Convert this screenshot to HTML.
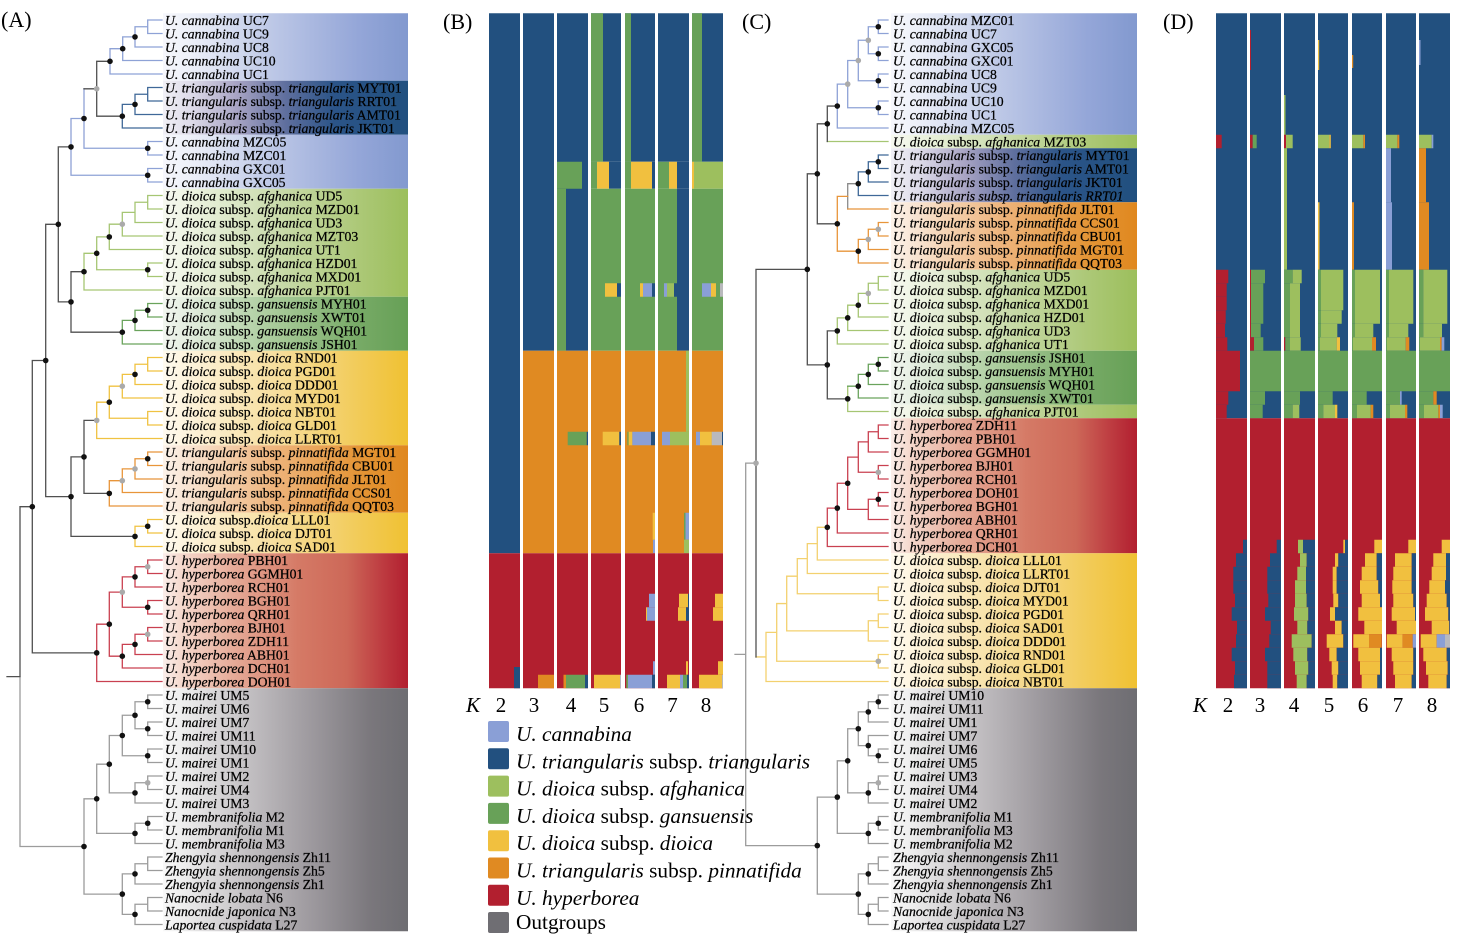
<!DOCTYPE html>
<html><head><meta charset="utf-8">
<style>
html,body{margin:0;padding:0;background:#fff;}
body{width:1458px;height:934px;overflow:hidden;}
svg{display:block;}
text{font-family:"Liberation Serif","Times New Roman",serif;fill:#000;}
.lab text{font-size:13.7px;stroke:#000;stroke-width:0.25px;}
.i{font-style:italic;}
.bl{fill:#22507f}.lb{fill:#8a9fd6}.lg{fill:#9dbf5e}.gr{fill:#68a158}.ye{fill:#f1c03f}.or{fill:#e08a22}.rd{fill:#b21f2f}.gy{fill:#b9b9bd}
.tr{fill:none;stroke-width:1.3;stroke-linecap:square}
</style></head><body>
<svg width="1458" height="934" viewBox="0 0 1458 934" xmlns="http://www.w3.org/2000/svg">
<defs>
<linearGradient id="gCan" x1="0" x2="1" y1="0" y2="0"><stop offset="0" stop-color="#f6f7fc"/><stop offset="0.1" stop-color="#eef1f9"/><stop offset="0.45" stop-color="#bcc7e6"/><stop offset="0.8" stop-color="#94a6d8"/><stop offset="1" stop-color="#8299cf"/></linearGradient>
<linearGradient id="gTri" x1="0" x2="1" y1="0" y2="0"><stop offset="0" stop-color="#f1f0f6"/><stop offset="0.12" stop-color="#dcdae8"/><stop offset="0.3" stop-color="#a8a4c4"/><stop offset="0.5" stop-color="#5f6f9e"/><stop offset="0.7" stop-color="#2b5488"/><stop offset="1" stop-color="#21507f"/></linearGradient>
<linearGradient id="gAfg" x1="0" x2="1" y1="0" y2="0"><stop offset="0" stop-color="#f7f9f1"/><stop offset="0.1" stop-color="#eef4e3"/><stop offset="0.45" stop-color="#cbdcae"/><stop offset="0.8" stop-color="#acc877"/><stop offset="1" stop-color="#9cbf5c"/></linearGradient>
<linearGradient id="gGan" x1="0" x2="1" y1="0" y2="0"><stop offset="0" stop-color="#f2f6f0"/><stop offset="0.1" stop-color="#e4eee0"/><stop offset="0.45" stop-color="#a9cb9a"/><stop offset="0.8" stop-color="#77aa66"/><stop offset="1" stop-color="#66a056"/></linearGradient>
<linearGradient id="gDio" x1="0" x2="1" y1="0" y2="0"><stop offset="0" stop-color="#fffbf0"/><stop offset="0.1" stop-color="#fdf3dc"/><stop offset="0.45" stop-color="#f7dfa0"/><stop offset="0.8" stop-color="#f2cb58"/><stop offset="1" stop-color="#f0c132"/></linearGradient>
<linearGradient id="gPin" x1="0" x2="1" y1="0" y2="0"><stop offset="0" stop-color="#fdf3ea"/><stop offset="0.1" stop-color="#f8e4d2"/><stop offset="0.45" stop-color="#eeb47c"/><stop offset="0.8" stop-color="#e49536"/><stop offset="1" stop-color="#e0881f"/></linearGradient>
<linearGradient id="gHyp" x1="0" x2="1" y1="0" y2="0"><stop offset="0" stop-color="#fbeeea"/><stop offset="0.08" stop-color="#f5d8cc"/><stop offset="0.3" stop-color="#e5a895"/><stop offset="0.55" stop-color="#d57a66"/><stop offset="0.75" stop-color="#cd6858"/><stop offset="0.9" stop-color="#bd3a40"/><stop offset="1" stop-color="#b21f2f"/></linearGradient>
<linearGradient id="gOut" x1="0" x2="1" y1="0" y2="0"><stop offset="0" stop-color="#f8f8f8"/><stop offset="0.08" stop-color="#eeeeee"/><stop offset="0.35" stop-color="#c2bfc2"/><stop offset="0.6" stop-color="#9e9a9f"/><stop offset="0.85" stop-color="#7a777c"/><stop offset="1" stop-color="#6e6d72"/></linearGradient>
</defs>

<!-- Panel labels -->
<text x="1" y="27" font-size="22">(A)</text>
<text x="443" y="29" font-size="22">(B)</text>
<text x="742" y="29" font-size="22">(C)</text>
<text x="1163" y="29" font-size="22">(D)</text>

<!-- Backgrounds A -->
<g>
<rect x="163" y="13.25" width="245" height="67.5" fill="url(#gCan)"/>
<rect x="163" y="80.75" width="245" height="54" fill="url(#gTri)"/>
<rect x="163" y="134.75" width="245" height="54" fill="url(#gCan)"/>
<rect x="163" y="188.75" width="245" height="108" fill="url(#gAfg)"/>
<rect x="163" y="296.75" width="245" height="54" fill="url(#gGan)"/>
<rect x="163" y="350.75" width="245" height="94.5" fill="url(#gDio)"/>
<rect x="163" y="445.25" width="245" height="67.5" fill="url(#gPin)"/>
<rect x="163" y="512.75" width="245" height="40.5" fill="url(#gDio)"/>
<rect x="163" y="553.25" width="245" height="135" fill="url(#gHyp)"/>
<rect x="163" y="688.25" width="245" height="243" fill="url(#gOut)"/>
</g>
<!-- Backgrounds C -->
<g>
<rect x="891" y="13.25" width="246" height="121.5" fill="url(#gCan)"/>
<rect x="891" y="134.75" width="246" height="13.5" fill="url(#gAfg)"/>
<rect x="891" y="148.25" width="246" height="54" fill="url(#gTri)"/>
<rect x="891" y="202.25" width="246" height="67.5" fill="url(#gPin)"/>
<rect x="891" y="269.75" width="246" height="81" fill="url(#gAfg)"/>
<rect x="891" y="350.75" width="246" height="54" fill="url(#gGan)"/>
<rect x="891" y="404.75" width="246" height="13.5" fill="url(#gAfg)"/>
<rect x="891" y="418.25" width="246" height="135" fill="url(#gHyp)"/>
<rect x="891" y="553.25" width="246" height="135" fill="url(#gDio)"/>
<rect x="891" y="688.25" width="246" height="243" fill="url(#gOut)"/>
</g>

<!-- Tree A -->
<path class="tr" stroke="#8ea2d6" d="M147.7 20V33.5M147.7 20H162M147.7 33.5H162M135 26.75V47M135 26.75H147.7M135 47H162M122.7 36.9V60.5M122.7 36.9H135M122.7 60.5H162M110 48.7V74M110 48.7H122.7M110 74H162M147.7 141.5V155M147.7 141.5H162M147.7 155H162M84 88.8V148.25M84 148.25H147.7M147.7 168.5V182M147.7 168.5H162M147.7 182H162M71 118.5V175.25M71 118.5H84M71 175.25H147.7"/>
<path class="tr" stroke="#3f6898" d="M147.7 87.5V101M147.7 87.5H162M147.7 101H162M135 94.25V114.5M135 94.25H147.7M135 114.5H162M122.3 104.4V128M122.3 104.4H135M122.3 128H162"/>
<path class="tr" stroke="#a6c673" d="M84 253.3V290M84 253.3H96.7M84 290H162M96.7 236.9V269.75M96.7 236.9H109.3M96.7 269.75H147.7M147.7 263V276.5M147.7 263H162M147.7 276.5H162M109.3 224.2V249.5M109.3 224.2H122.3M109.3 249.5H162M122.3 212.4V236M122.3 212.4H135M122.3 236H162M135 202.25V222.5M135 202.25H147.7M135 222.5H162M147.7 195.5V209M147.7 195.5H162M147.7 209H162"/>
<path class="tr" stroke="#6aa35c" d="M122.3 320.4V344M122.3 320.4H135M122.3 344H162M135 310.25V330.5M135 310.25H147.7M135 330.5H162M147.7 303.5V317M147.7 303.5H162M147.7 317H162"/>
<path class="tr" stroke="#f0c242" d="M96.7 402.2V438.5M96.7 402.2H109.3M96.7 438.5H162M109.3 386.2V418.25M109.3 386.2H122.3M109.3 418.25H147.7M147.7 411.5V425M147.7 411.5H162M147.7 425H162M122.3 374.4V398M122.3 374.4H135M122.3 398H162M135 364.25V384.5M135 364.25H147.7M135 384.5H162M147.7 357.5V371M147.7 357.5H162M147.7 371H162M135 526.25V546.5M135 526.25H147.7M135 546.5H162M147.7 519.5V533M147.7 519.5H162M147.7 533H162"/>
<path class="tr" stroke="#e8953a" d="M109.3 480.7V506M109.3 480.7H122.3M109.3 506H162M122.3 468.9V492.5M122.3 468.9H135M122.3 492.5H162M135 458.75V479M135 458.75H147.7M135 479H162M147.7 452V465.5M147.7 452H162M147.7 465.5H162"/>
<path class="tr" stroke="#c94050" d="M96.7 624.2V681.5M96.7 624.2H109.3M96.7 681.5H162M109.3 592.1V656.2M109.3 592.1H122.3M109.3 656.2H122.3M122.3 576.9V607.25M122.3 576.9H135M122.3 607.25H147.7M135 566.75V587M135 566.75H147.7M135 587H162M147.7 560V573.5M147.7 560H162M147.7 573.5H162M147.7 600.5V614M147.7 600.5H162M147.7 614H162M122.3 644.4V668M122.3 644.4H135M122.3 668H162M135 634.25V654.5M135 634.25H147.7M135 654.5H162M147.7 627.5V641M147.7 627.5H162M147.7 641H162"/>
<path class="tr" stroke="#9c9c9c" d="M20 676.6V846.5M20 846.5H84M84 798.8V894.1M84 798.8H96.7M84 894.1H122.3M96.7 764.2V833.4M96.7 764.2H109.3M96.7 833.4H135M109.3 735.5V792.9M109.3 735.5H122.3M109.3 792.9H135M122.3 715.25V755.75M122.3 715.25H135M122.3 755.75H147.7M135 701.75V728.75M135 701.75H147.7M135 728.75H147.7M147.7 695V708.5M147.7 695H162M147.7 708.5H162M147.7 722V735.5M147.7 722H162M147.7 735.5H162M147.7 749V762.5M147.7 749H162M147.7 762.5H162M135 782.75V803M135 782.75H147.7M135 803H162M147.7 776V789.5M147.7 776H162M147.7 789.5H162M135 823.25V843.5M135 823.25H147.7M135 843.5H162M147.7 816.5V830M147.7 816.5H162M147.7 830H162M122.3 873.9V914.4M122.3 873.9H135M122.3 914.4H135M135 863.75V884M135 863.75H147.7M135 884H162M147.7 857V870.5M147.7 857H162M147.7 870.5H162M135 904.25V924.5M135 904.25H147.7M135 924.5H162M147.7 897.5V911M147.7 897.5H162M147.7 911H162"/>
<path class="tr" stroke="#505050" d="M96.7 61.3V116.2M96.7 61.3H110M96.7 116.2H122.3M84 88.8H96.7M58.3 146.9V301.9M58.3 146.9H71M58.3 301.9H71M71 271.7V332.2M71 271.7H84M71 332.2H122.3M45.7 224.3V496.65M45.7 224.3H58.3M45.7 496.65H71M71 456.9V536.4M71 456.9H84M71 536.4H135M84 420.4V493.4M84 420.4H96.7M84 493.4H109.3M32.3 360.5V652.85M32.3 360.5H45.7M32.3 652.85H96.7M20 506.7V676.6M20 506.7H32.3M7 676.6H20"/>
<g fill="#111">
<circle cx="135" cy="36.9" r="2.8"/><circle cx="122.7" cy="48.7" r="2.8"/><circle cx="110" cy="61.3" r="2.8"/><circle cx="135" cy="104.4" r="2.8"/><circle cx="122.3" cy="116.2" r="2.8"/><circle cx="147.7" cy="148.25" r="2.8"/><circle cx="84" cy="118.5" r="2.8"/><circle cx="147.7" cy="175.25" r="2.8"/><circle cx="71" cy="146.9" r="2.8"/><circle cx="109.3" cy="236.9" r="2.8"/><circle cx="147.7" cy="269.75" r="2.8"/><circle cx="96.7" cy="253.3" r="2.8"/><circle cx="84" cy="271.7" r="2.8"/><circle cx="147.7" cy="310.25" r="2.8"/><circle cx="135" cy="320.4" r="2.8"/><circle cx="122.3" cy="332.2" r="2.8"/><circle cx="71" cy="301.9" r="2.8"/><circle cx="58.3" cy="224.3" r="2.8"/><circle cx="135" cy="374.4" r="2.8"/><circle cx="109.3" cy="402.2" r="2.8"/><circle cx="147.7" cy="458.75" r="2.8"/><circle cx="109.3" cy="493.4" r="2.8"/><circle cx="84" cy="456.9" r="2.8"/><circle cx="147.7" cy="526.25" r="2.8"/><circle cx="135" cy="536.4" r="2.8"/><circle cx="71" cy="496.65" r="2.8"/><circle cx="45.7" cy="360.5" r="2.8"/><circle cx="135" cy="576.9" r="2.8"/><circle cx="147.7" cy="607.25" r="2.8"/><circle cx="135" cy="644.4" r="2.8"/><circle cx="122.3" cy="656.2" r="2.8"/><circle cx="109.3" cy="624.2" r="2.8"/><circle cx="96.7" cy="652.85" r="2.8"/><circle cx="32.3" cy="506.7" r="2.8"/><circle cx="147.7" cy="701.75" r="2.8"/><circle cx="147.7" cy="728.75" r="2.8"/><circle cx="135" cy="715.25" r="2.8"/><circle cx="147.7" cy="755.75" r="2.8"/><circle cx="122.3" cy="735.5" r="2.8"/><circle cx="135" cy="792.9" r="2.8"/><circle cx="109.3" cy="764.2" r="2.8"/><circle cx="147.7" cy="823.25" r="2.8"/><circle cx="135" cy="833.4" r="2.8"/><circle cx="96.7" cy="798.8" r="2.8"/><circle cx="135" cy="873.9" r="2.8"/><circle cx="135" cy="914.4" r="2.8"/><circle cx="122.3" cy="894.1" r="2.8"/><circle cx="84" cy="846.5" r="2.8"/>
</g>
<g fill="#aaaaaa">
<circle cx="96.7" cy="88.8" r="2.8"/><circle cx="122.3" cy="224.2" r="2.8"/><circle cx="122.3" cy="386.2" r="2.8"/><circle cx="96.7" cy="420.4" r="2.8"/><circle cx="135" cy="468.9" r="2.8"/><circle cx="122.3" cy="480.7" r="2.8"/><circle cx="147.7" cy="566.75" r="2.8"/><circle cx="122.3" cy="592.1" r="2.8"/><circle cx="147.7" cy="634.25" r="2.8"/><circle cx="147.7" cy="782.75" r="2.8"/>
</g>

<!-- Tree C -->
<path class="tr" stroke="#8ea2d6" d="M878.3 20V33.5M878.3 20H888M878.3 33.5H888M878.3 47V60.5M878.3 47H888M878.3 60.5H888M868.3 26.75V53.75M868.3 26.75H878.3M868.3 53.75H878.3M878.3 74V87.5M878.3 74H888M878.3 87.5H888M858.3 40.25V80.75M858.3 40.25H868.3M858.3 80.75H878.3M878.3 101V114.5M878.3 101H888M878.3 114.5H888M847.7 60.5V107.75M847.7 60.5H858.3M847.7 107.75H878.3M837.3 84.1V128M837.3 84.1H847.7M837.3 128H888"/>
<path class="tr" stroke="#3f6898" d="M878.3 155V168.5M878.3 155H888M878.3 168.5H888M868.3 161.75V182M868.3 161.75H878.3M868.3 182H888M858.3 171.9V195.5M858.3 171.9H868.3M858.3 195.5H888"/>
<path class="tr" stroke="#8a8a8a" d="M847.7 183.7V209M847.7 183.7H858.3"/>
<path class="tr" stroke="#e8953a" d="M847.7 209H888M878.3 222.5V236M878.3 222.5H888M878.3 236H888M868.3 229.25V249.5M868.3 229.25H878.3M868.3 249.5H888M858.3 239.4V263M858.3 239.4H868.3M858.3 263H888M837.3 196.4V251.2M837.3 196.4H847.7M837.3 251.2H858.3"/>
<path class="tr" stroke="#a6c673" d="M827.3 141.5H888M878.3 276.5V290M878.3 276.5H888M878.3 290H888M868.3 283.25V303.5M868.3 283.25H878.3M868.3 303.5H888M858.3 293.4V317M858.3 293.4H868.3M858.3 317H888M847.7 305.2V330.5M847.7 305.2H858.3M847.7 330.5H888M837.3 317.85V344M837.3 317.85H847.7M837.3 344H888M847.7 386.2V411.5M847.7 411.5H888"/>
<path class="tr" stroke="#6aa35c" d="M878.3 357.5V371M878.3 357.5H888M878.3 371H888M868.3 364.25V384.5M868.3 364.25H878.3M868.3 384.5H888M858.3 374.4V398M858.3 374.4H868.3M858.3 398H888M847.7 386.2H858.3"/>
<path class="tr" stroke="#c94050" d="M878.3 425V438.5M878.3 425H888M878.3 438.5H888M868.3 431.75V452M868.3 431.75H878.3M868.3 452H888M878.3 465.5V479M878.3 465.5H888M878.3 479H888M858.3 441.9V472.25M858.3 441.9H868.3M858.3 472.25H878.3M878.3 492.5V506M878.3 492.5H888M878.3 506H888M868.3 499.25V519.5M868.3 499.25H878.3M868.3 519.5H888M847.7 457.1V509.4M847.7 457.1H858.3M847.7 509.4H868.3M837.3 483.25V533M837.3 483.25H847.7M837.3 533H888M827.3 508.1V546.5M827.3 508.1H837.3M827.3 546.5H888"/>
<path class="tr" stroke="#f3d16f" d="M817.3 527.3V560M817.3 527.3H827.3M817.3 560H888M807.3 543.65V573.5M807.3 543.65H817.3M807.3 573.5H888M878.3 587V600.5M878.3 587H888M878.3 600.5H888M797.3 558.6V593.75M797.3 558.6H807.3M797.3 593.75H878.3M878.3 614V627.5M878.3 614H888M878.3 627.5H888M868.3 620.75V641M868.3 620.75H878.3M868.3 641H888M786.7 576.2V630.9M786.7 576.2H797.3M786.7 630.9H868.3M878.3 654.5V668M878.3 654.5H888M878.3 668H888M776.7 603.55V661.25M776.7 603.55H786.7M776.7 661.25H878.3M766 632.4V681.5M766 632.4H776.7M766 681.5H888M756 656.95H766"/>
<path class="tr" stroke="#9c9c9c" d="M745.7 463.15V845.6M745.7 463.15H756M735 654.4H745.7M745.7 845.6H817.3M878.3 695V708.5M878.3 695H888M878.3 708.5H888M868.3 701.75V722M868.3 701.75H878.3M868.3 722H888M878.3 749V762.5M878.3 749H888M878.3 762.5H888M868.3 735.5V755.75M868.3 735.5H888M868.3 755.75H878.3M858.3 711.9V745.6M858.3 711.9H868.3M858.3 745.6H868.3M878.3 776V789.5M878.3 776H888M878.3 789.5H888M868.3 782.75V803M868.3 782.75H878.3M868.3 803H888M847.7 728.75V792.9M847.7 728.75H858.3M847.7 792.9H868.3M878.3 816.5V830M878.3 816.5H888M878.3 830H888M868.3 823.25V843.5M868.3 823.25H878.3M868.3 843.5H888M837.3 760.8V833.4M837.3 760.8H847.7M837.3 833.4H868.3M878.3 857V870.5M878.3 857H888M878.3 870.5H888M868.3 863.75V884M868.3 863.75H878.3M868.3 884H888M878.3 897.5V911M878.3 897.5H888M878.3 911H888M868.3 904.25V924.5M868.3 904.25H878.3M868.3 924.5H888M858.3 873.9V914.4M858.3 873.9H868.3M858.3 914.4H868.3M817.3 797.1V894.1M817.3 797.1H837.3M817.3 894.1H858.3"/>
<path class="tr" stroke="#505050" d="M827.3 106.06V141.5M827.3 106.06H837.3M817.3 123.8V223.8M817.3 123.8H827.3M817.3 223.8H837.3M807.3 173.8V364.9M807.3 173.8H817.3M807.3 364.9H827.3M827.3 330.9V398.85M827.3 330.9H837.3M827.3 398.85H847.7M756 269.35V656.95M756 269.35H807.3"/>
<g fill="#111">
<circle cx="878.3" cy="26.75" r="2.8"/><circle cx="878.3" cy="53.75" r="2.8"/><circle cx="878.3" cy="80.75" r="2.8"/><circle cx="878.3" cy="107.75" r="2.8"/><circle cx="837.3" cy="106.06" r="2.8"/><circle cx="827.3" cy="123.8" r="2.8"/><circle cx="878.3" cy="161.75" r="2.8"/><circle cx="868.3" cy="171.9" r="2.8"/><circle cx="858.3" cy="183.7" r="2.8"/><circle cx="858.3" cy="251.2" r="2.8"/><circle cx="837.3" cy="223.8" r="2.8"/><circle cx="817.3" cy="173.8" r="2.8"/><circle cx="858.3" cy="305.2" r="2.8"/><circle cx="847.7" cy="317.85" r="2.8"/><circle cx="837.3" cy="330.9" r="2.8"/><circle cx="878.3" cy="364.25" r="2.8"/><circle cx="868.3" cy="374.4" r="2.8"/><circle cx="858.3" cy="386.2" r="2.8"/><circle cx="847.7" cy="398.85" r="2.8"/><circle cx="827.3" cy="364.9" r="2.8"/><circle cx="807.3" cy="269.35" r="2.8"/><circle cx="878.3" cy="499.25" r="2.8"/><circle cx="847.7" cy="483.25" r="2.8"/><circle cx="837.3" cy="508.1" r="2.8"/><circle cx="827.3" cy="527.3" r="2.8"/><circle cx="878.3" cy="701.75" r="2.8"/><circle cx="868.3" cy="711.9" r="2.8"/><circle cx="878.3" cy="755.75" r="2.8"/><circle cx="868.3" cy="745.6" r="2.8"/><circle cx="858.3" cy="728.75" r="2.8"/><circle cx="868.3" cy="792.9" r="2.8"/><circle cx="847.7" cy="760.8" r="2.8"/><circle cx="878.3" cy="823.25" r="2.8"/><circle cx="868.3" cy="833.4" r="2.8"/><circle cx="837.3" cy="797.1" r="2.8"/><circle cx="868.3" cy="873.9" r="2.8"/><circle cx="868.3" cy="914.4" r="2.8"/><circle cx="858.3" cy="894.1" r="2.8"/><circle cx="817.3" cy="845.6" r="2.8"/>
</g>
<g fill="#aaaaaa">
<circle cx="868.3" cy="40.25" r="2.8"/><circle cx="858.3" cy="60.5" r="2.8"/><circle cx="847.7" cy="84.1" r="2.8"/><circle cx="878.3" cy="229.25" r="2.8"/><circle cx="868.3" cy="239.4" r="2.8"/><circle cx="868.3" cy="293.4" r="2.8"/><circle cx="878.3" cy="472.25" r="2.8"/><circle cx="878.3" cy="661.25" r="2.8"/><circle cx="756" cy="463.15" r="2.8"/><circle cx="878.3" cy="782.75" r="2.8"/>
</g>

<!-- Labels A -->
<g class="lab">
<text x="165" y="25"><tspan class="i">U. cannabina</tspan> UC7</text>
<text x="165" y="38.5"><tspan class="i">U. cannabina</tspan> UC9</text>
<text x="165" y="52"><tspan class="i">U. cannabina</tspan> UC8</text>
<text x="165" y="65.5"><tspan class="i">U. cannabina</tspan> UC10</text>
<text x="165" y="79"><tspan class="i">U. cannabina</tspan> UC1</text>
<text x="165" y="92.5"><tspan class="i">U. triangularis</tspan> subsp. <tspan class="i">triangularis</tspan> MYT01</text>
<text x="165" y="106"><tspan class="i">U. triangularis</tspan> subsp. <tspan class="i">triangularis</tspan> RRT01</text>
<text x="165" y="119.5"><tspan class="i">U. triangularis</tspan> subsp. <tspan class="i">triangularis</tspan> AMT01</text>
<text x="165" y="133"><tspan class="i">U. triangularis</tspan> subsp. <tspan class="i">triangularis</tspan> JKT01</text>
<text x="165" y="146.5"><tspan class="i">U. cannabina</tspan> MZC05</text>
<text x="165" y="160"><tspan class="i">U. cannabina</tspan> MZC01</text>
<text x="165" y="173.5"><tspan class="i">U. cannabina</tspan> GXC01</text>
<text x="165" y="187"><tspan class="i">U. cannabina</tspan> GXC05</text>
<text x="165" y="200.5"><tspan class="i">U. dioica</tspan> subsp. <tspan class="i">afghanica</tspan> UD5</text>
<text x="165" y="214"><tspan class="i">U. dioica</tspan> subsp. <tspan class="i">afghanica</tspan> MZD01</text>
<text x="165" y="227.5"><tspan class="i">U. dioica</tspan> subsp. <tspan class="i">afghanica</tspan> UD3</text>
<text x="165" y="241"><tspan class="i">U. dioica</tspan> subsp. <tspan class="i">afghanica</tspan> MZT03</text>
<text x="165" y="254.5"><tspan class="i">U. dioica</tspan> subsp. <tspan class="i">afghanica</tspan> UT1</text>
<text x="165" y="268"><tspan class="i">U. dioica</tspan> subsp. <tspan class="i">afghanica</tspan> HZD01</text>
<text x="165" y="281.5"><tspan class="i">U. dioica</tspan> subsp. <tspan class="i">afghanica</tspan> MXD01</text>
<text x="165" y="295"><tspan class="i">U. dioica</tspan> subsp. <tspan class="i">afghanica</tspan> PJT01</text>
<text x="165" y="308.5"><tspan class="i">U. dioica</tspan> subsp. <tspan class="i">gansuensis</tspan> MYH01</text>
<text x="165" y="322"><tspan class="i">U. dioica</tspan> subsp. <tspan class="i">gansuensis</tspan> XWT01</text>
<text x="165" y="335.5"><tspan class="i">U. dioica</tspan> subsp. <tspan class="i">gansuensis</tspan> WQH01</text>
<text x="165" y="349"><tspan class="i">U. dioica</tspan> subsp. <tspan class="i">gansuensis</tspan> JSH01</text>
<text x="165" y="362.5"><tspan class="i">U. dioica</tspan> subsp. <tspan class="i">dioica</tspan> RND01</text>
<text x="165" y="376"><tspan class="i">U. dioica</tspan> subsp. <tspan class="i">dioica</tspan> PGD01</text>
<text x="165" y="389.5"><tspan class="i">U. dioica</tspan> subsp. <tspan class="i">dioica</tspan> DDD01</text>
<text x="165" y="403"><tspan class="i">U. dioica</tspan> subsp. <tspan class="i">dioica</tspan> MYD01</text>
<text x="165" y="416.5"><tspan class="i">U. dioica</tspan> subsp. <tspan class="i">dioica</tspan> NBT01</text>
<text x="165" y="430"><tspan class="i">U. dioica</tspan> subsp. <tspan class="i">dioica</tspan> GLD01</text>
<text x="165" y="443.5"><tspan class="i">U. dioica</tspan> subsp. <tspan class="i">dioica</tspan> LLRT01</text>
<text x="165" y="457"><tspan class="i">U. triangularis</tspan> subsp. <tspan class="i">pinnatifida</tspan> MGT01</text>
<text x="165" y="470.5"><tspan class="i">U. triangularis</tspan> subsp. <tspan class="i">pinnatifida</tspan> CBU01</text>
<text x="165" y="484"><tspan class="i">U. triangularis</tspan> subsp. <tspan class="i">pinnatifida</tspan> JLT01</text>
<text x="165" y="497.5"><tspan class="i">U. triangularis</tspan> subsp. <tspan class="i">pinnatifida</tspan> CCS01</text>
<text x="165" y="511"><tspan class="i">U. triangularis</tspan> subsp. <tspan class="i">pinnatifida</tspan> QQT03</text>
<text x="165" y="524.5"><tspan class="i">U. dioica</tspan> subsp.<tspan class="i">dioica</tspan> LLL01</text>
<text x="165" y="538"><tspan class="i">U. dioica</tspan> subsp. <tspan class="i">dioica</tspan> DJT01</text>
<text x="165" y="551.5"><tspan class="i">U. dioica</tspan> subsp. <tspan class="i">dioica</tspan> SAD01</text>
<text x="165" y="565"><tspan class="i">U. hyperborea</tspan> PBH01</text>
<text x="165" y="578.5"><tspan class="i">U. hyperborea</tspan> GGMH01</text>
<text x="165" y="592"><tspan class="i">U. hyperborea</tspan> RCH01</text>
<text x="165" y="605.5"><tspan class="i">U. hyperborea</tspan> BGH01</text>
<text x="165" y="619"><tspan class="i">U. hyperborea</tspan> QRH01</text>
<text x="165" y="632.5"><tspan class="i">U. hyperborea</tspan> BJH01</text>
<text x="165" y="646"><tspan class="i">U. hyperborea</tspan> ZDH11</text>
<text x="165" y="659.5"><tspan class="i">U. hyperborea</tspan> ABH01</text>
<text x="165" y="673"><tspan class="i">U. hyperborea</tspan> DCH01</text>
<text x="165" y="686.5"><tspan class="i">U. hyperborea</tspan> DOH01</text>
<text x="165" y="700"><tspan class="i">U. mairei</tspan> UM5</text>
<text x="165" y="713.5"><tspan class="i">U. mairei</tspan> UM6</text>
<text x="165" y="727"><tspan class="i">U. mairei</tspan> UM7</text>
<text x="165" y="740.5"><tspan class="i">U. mairei</tspan> UM11</text>
<text x="165" y="754"><tspan class="i">U. mairei</tspan> UM10</text>
<text x="165" y="767.5"><tspan class="i">U. mairei</tspan> UM1</text>
<text x="165" y="781"><tspan class="i">U. mairei</tspan> UM2</text>
<text x="165" y="794.5"><tspan class="i">U. mairei</tspan> UM4</text>
<text x="165" y="808"><tspan class="i">U. mairei</tspan> UM3</text>
<text x="165" y="821.5"><tspan class="i">U. membranifolia</tspan> M2</text>
<text x="165" y="835"><tspan class="i">U. membranifolia</tspan> M1</text>
<text x="165" y="848.5"><tspan class="i">U. membranifolia</tspan> M3</text>
<text x="165" y="862"><tspan class="i">Zhengyia shennongensis</tspan> Zh11</text>
<text x="165" y="875.5"><tspan class="i">Zhengyia shennongensis</tspan> Zh5</text>
<text x="165" y="889"><tspan class="i">Zhengyia shennongensis</tspan> Zh1</text>
<text x="165" y="902.5"><tspan class="i">Nanocnide lobata</tspan> N6</text>
<text x="165" y="916"><tspan class="i">Nanocnide japonica</tspan> N3</text>
<text x="165" y="929.5"><tspan class="i">Laportea cuspidata</tspan> L27</text>
</g>

<!-- Labels C -->
<g class="lab">
<text x="893" y="25"><tspan class="i">U. cannabina</tspan> MZC01</text>
<text x="893" y="38.5"><tspan class="i">U. cannabina</tspan> UC7</text>
<text x="893" y="52"><tspan class="i">U. cannabina</tspan> GXC05</text>
<text x="893" y="65.5"><tspan class="i">U. cannabina</tspan> GXC01</text>
<text x="893" y="79"><tspan class="i">U. cannabina</tspan> UC8</text>
<text x="893" y="92.5"><tspan class="i">U. cannabina</tspan> UC9</text>
<text x="893" y="106"><tspan class="i">U. cannabina</tspan> UC10</text>
<text x="893" y="119.5"><tspan class="i">U. cannabina</tspan> UC1</text>
<text x="893" y="133"><tspan class="i">U. cannabina</tspan> MZC05</text>
<text x="893" y="146.5"><tspan class="i">U. dioica</tspan> subsp. <tspan class="i">afghanica</tspan> MZT03</text>
<text x="893" y="160"><tspan class="i">U. triangularis</tspan> subsp. <tspan class="i">triangularis</tspan> MYT01</text>
<text x="893" y="173.5"><tspan class="i">U. triangularis</tspan> subsp. <tspan class="i">triangularis</tspan> AMT01</text>
<text x="893" y="187"><tspan class="i">U. triangularis</tspan> subsp. <tspan class="i">triangularis</tspan> JKT01</text>
<text x="893" y="200.5" class="i">U. triangularis subsp. triangularis RRT01</text>
<text x="893" y="214"><tspan class="i">U. triangularis</tspan> subsp. <tspan class="i">pinnatifida</tspan> JLT01</text>
<text x="893" y="227.5"><tspan class="i">U. triangularis</tspan> subsp. <tspan class="i">pinnatifida</tspan> CCS01</text>
<text x="893" y="241"><tspan class="i">U. triangularis</tspan> subsp. <tspan class="i">pinnatifida</tspan> CBU01</text>
<text x="893" y="254.5"><tspan class="i">U. triangularis</tspan> subsp. <tspan class="i">pinnatifida</tspan> MGT01</text>
<text x="893" y="268"><tspan class="i">U. triangularis</tspan> subsp. <tspan class="i">pinnatifida</tspan> QQT03</text>
<text x="893" y="281.5"><tspan class="i">U. dioica</tspan> subsp. <tspan class="i">afghanica</tspan> UD5</text>
<text x="893" y="295"><tspan class="i">U. dioica</tspan> subsp. <tspan class="i">afghanica</tspan> MZD01</text>
<text x="893" y="308.5"><tspan class="i">U. dioica</tspan> subsp. <tspan class="i">afghanica</tspan> MXD01</text>
<text x="893" y="322"><tspan class="i">U. dioica</tspan> subsp. <tspan class="i">afghanica</tspan> HZD01</text>
<text x="893" y="335.5"><tspan class="i">U. dioica</tspan> subsp. <tspan class="i">afghanica</tspan> UD3</text>
<text x="893" y="349"><tspan class="i">U. dioica</tspan> subsp. <tspan class="i">afghanica</tspan> UT1</text>
<text x="893" y="362.5"><tspan class="i">U. dioica</tspan> subsp. <tspan class="i">gansuensis</tspan> JSH01</text>
<text x="893" y="376"><tspan class="i">U. dioica</tspan> subsp. <tspan class="i">gansuensis</tspan> MYH01</text>
<text x="893" y="389.5"><tspan class="i">U. dioica</tspan> subsp. <tspan class="i">gansuensis</tspan> WQH01</text>
<text x="893" y="403"><tspan class="i">U. dioica</tspan> subsp. <tspan class="i">gansuensis</tspan> XWT01</text>
<text x="893" y="416.5"><tspan class="i">U. dioica</tspan> subsp. <tspan class="i">afghanica</tspan> PJT01</text>
<text x="893" y="430"><tspan class="i">U. hyperborea</tspan> ZDH11</text>
<text x="893" y="443.5"><tspan class="i">U. hyperborea</tspan> PBH01</text>
<text x="893" y="457"><tspan class="i">U. hyperborea</tspan> GGMH01</text>
<text x="893" y="470.5"><tspan class="i">U. hyperborea</tspan> BJH01</text>
<text x="893" y="484"><tspan class="i">U. hyperborea</tspan> RCH01</text>
<text x="893" y="497.5"><tspan class="i">U. hyperborea</tspan> DOH01</text>
<text x="893" y="511"><tspan class="i">U. hyperborea</tspan> BGH01</text>
<text x="893" y="524.5"><tspan class="i">U. hyperborea</tspan> ABH01</text>
<text x="893" y="538"><tspan class="i">U. hyperborea</tspan> QRH01</text>
<text x="893" y="551.5">U. <tspan class="i">hyperborea</tspan> DCH01</text>
<text x="893" y="565"><tspan class="i">U. dioica</tspan> subsp. <tspan class="i">dioica</tspan> LLL01</text>
<text x="893" y="578.5"><tspan class="i">U. dioica</tspan> subsp. <tspan class="i">dioica</tspan> LLRT01</text>
<text x="893" y="592"><tspan class="i">U. dioica</tspan> subsp. <tspan class="i">dioica</tspan> DJT01</text>
<text x="893" y="605.5"><tspan class="i">U. dioica</tspan> subsp. <tspan class="i">dioica</tspan> MYD01</text>
<text x="893" y="619"><tspan class="i">U. dioica</tspan> subsp. <tspan class="i">dioica</tspan> PGD01</text>
<text x="893" y="632.5"><tspan class="i">U. dioica</tspan> subsp. <tspan class="i">dioica</tspan> SAD01</text>
<text x="893" y="646"><tspan class="i">U. dioica</tspan> subsp. <tspan class="i">dioica</tspan> DDD01</text>
<text x="893" y="659.5"><tspan class="i">U. dioica</tspan> subsp. <tspan class="i">dioica</tspan> RND01</text>
<text x="893" y="673"><tspan class="i">U. dioica</tspan> subsp. <tspan class="i">dioica</tspan> GLD01</text>
<text x="893" y="686.5"><tspan class="i">U. dioica</tspan> subsp. <tspan class="i">dioica</tspan> NBT01</text>
<text x="893" y="700"><tspan class="i">U. mairei</tspan> UM10</text>
<text x="893" y="713.5"><tspan class="i">U. mairei</tspan> UM11</text>
<text x="893" y="727"><tspan class="i">U. mairei</tspan> UM1</text>
<text x="893" y="740.5"><tspan class="i">U. mairei</tspan> UM7</text>
<text x="893" y="754"><tspan class="i">U. mairei</tspan> UM6</text>
<text x="893" y="767.5"><tspan class="i">U. mairei</tspan> UM5</text>
<text x="893" y="781"><tspan class="i">U. mairei</tspan> UM3</text>
<text x="893" y="794.5"><tspan class="i">U. mairei</tspan> UM4</text>
<text x="893" y="808"><tspan class="i">U. mairei</tspan> UM2</text>
<text x="893" y="821.5"><tspan class="i">U. membranifolia</tspan> M1</text>
<text x="893" y="835"><tspan class="i">U. membranifolia</tspan> M3</text>
<text x="893" y="848.5"><tspan class="i">U. membranifolia</tspan> M2</text>
<text x="893" y="862"><tspan class="i">Zhengyia shennongensis</tspan> Zh11</text>
<text x="893" y="875.5"><tspan class="i">Zhengyia shennongensis</tspan> Zh5</text>
<text x="893" y="889"><tspan class="i">Zhengyia shennongensis</tspan> Zh1</text>
<text x="893" y="902.5"><tspan class="i">Nanocnide lobata</tspan> N6</text>
<text x="893" y="916"><tspan class="i">Nanocnide japonica</tspan> N3</text>
<text x="893" y="929.5"><tspan class="i">Laportea cuspidata</tspan> L27</text>
</g>

<!-- Panel B structure -->
<g>
<!-- K2 -->
<rect class="bl" x="489" y="13.25" width="31" height="540"/>
<rect class="rd" x="489" y="553.25" width="31" height="135"/>
<rect class="bl" x="514" y="667" width="6" height="21.25"/>
<!-- K3 -->
<rect class="bl" x="523" y="13.25" width="31" height="337.5"/>
<rect class="or" x="523" y="350.75" width="31" height="202.5"/>
<rect class="rd" x="523" y="553.25" width="31" height="135"/>
<rect class="or" x="538" y="674.75" width="16" height="13.5"/>
<!-- K4 -->
<rect class="bl" x="557" y="13.25" width="31" height="337.5"/>
<rect class="gr" x="557" y="161.75" width="25" height="27"/>
<rect class="gr" x="557" y="188.75" width="9" height="162"/>
<rect class="or" x="557" y="350.75" width="31" height="202.5"/>
<rect class="gr" x="567.7" y="431.75" width="19" height="13.5"/>
<rect class="bl" x="586.7" y="431.75" width="1.3" height="13.5"/>
<rect class="rd" x="557" y="553.25" width="31" height="135"/>
<rect class="or" x="563.5" y="674.75" width="2.5" height="13.5"/>
<rect class="gr" x="566" y="674.75" width="19" height="13.5"/>
<rect class="bl" x="585" y="674.75" width="3" height="13.5"/>
<!-- K5 -->
<rect class="bl" x="591" y="13.25" width="30" height="148.5"/>
<rect class="gr" x="591" y="13.25" width="12" height="148.5"/>
<rect class="gr" x="591" y="161.75" width="6" height="27"/>
<rect class="ye" x="597" y="161.75" width="12" height="27"/>
<rect class="bl" x="609" y="161.75" width="12" height="27"/>
<rect class="gr" x="591" y="188.75" width="30" height="162"/>
<rect class="ye" x="605" y="283.25" width="12" height="13.5"/>
<rect class="bl" x="617" y="283.25" width="4" height="13.5"/>
<rect class="or" x="591" y="350.75" width="30" height="202.5"/>
<rect class="ye" x="602.7" y="431.75" width="16.6" height="13.5"/>
<rect class="bl" x="619.3" y="431.75" width="1.7" height="13.5"/>
<rect class="rd" x="591" y="553.25" width="30" height="135"/>
<rect class="ye" x="594" y="674.75" width="26" height="13.5"/>
<rect class="gy" x="620" y="674.75" width="1" height="13.5"/>
<!-- K6 -->
<rect class="bl" x="625" y="13.25" width="30" height="148.5"/>
<rect class="gr" x="625" y="13.25" width="6" height="148.5"/>
<rect class="gr" x="625" y="161.75" width="6" height="27"/>
<rect class="ye" x="631" y="161.75" width="21" height="27"/>
<rect class="bl" x="652" y="161.75" width="3" height="27"/>
<rect class="gr" x="625" y="188.75" width="30" height="162"/>
<rect class="ye" x="640" y="283.25" width="3" height="13.5"/>
<rect class="lb" x="643" y="283.25" width="9" height="13.5"/>
<rect class="bl" x="652" y="283.25" width="3" height="13.5"/>
<rect class="or" x="625" y="350.75" width="30" height="202.5"/>
<rect class="gr" x="627.3" y="431.75" width="1.4" height="13.5"/>
<rect class="ye" x="628.7" y="431.75" width="3.6" height="13.5"/>
<rect class="lb" x="632.3" y="431.75" width="18.7" height="13.5"/>
<rect class="bl" x="651" y="431.75" width="4" height="13.5"/>
<rect class="ye" x="652.7" y="512.75" width="2.3" height="27"/>
<rect class="lb" x="653" y="539.75" width="2" height="13.5"/>
<rect class="rd" x="625" y="553.25" width="30" height="135"/>
<rect class="lb" x="649" y="593.75" width="6" height="13.5"/>
<rect class="ye" x="646" y="607.25" width="1" height="13.5"/>
<rect class="lb" x="647" y="607.25" width="8" height="13.5"/>
<rect class="lb" x="653" y="661.25" width="2" height="13.5"/>
<rect class="gr" x="626.3" y="674.75" width="1.7" height="13.5"/>
<rect class="lb" x="628" y="674.75" width="24" height="13.5"/>
<rect class="bl" x="652" y="674.75" width="3" height="13.5"/>
<!-- K7 -->
<rect class="bl" x="658" y="13.25" width="31" height="148.5"/>
<rect class="gr" x="658" y="161.75" width="11" height="27"/>
<rect class="ye" x="669" y="161.75" width="8" height="27"/>
<rect class="bl" x="677" y="161.75" width="12" height="27"/>
<rect class="gr" x="658" y="188.75" width="19" height="162"/>
<rect class="bl" x="677" y="188.75" width="12" height="162"/>
<rect class="lb" x="664" y="283.25" width="3" height="13.5"/>
<rect class="lg" x="667" y="283.25" width="7" height="13.5"/>
<rect class="bl" x="674" y="283.25" width="3" height="13.5"/>
<rect class="or" x="658" y="350.75" width="31" height="202.5"/>
<rect class="lg" x="686" y="350.75" width="3" height="81"/>
<rect class="lb" x="662" y="431.75" width="8" height="13.5"/>
<rect class="lg" x="670" y="431.75" width="19" height="13.5"/>
<rect class="gr" x="684" y="512.75" width="1.5" height="27"/>
<rect class="lb" x="685.5" y="512.75" width="3.5" height="27"/>
<rect class="lg" x="684" y="539.75" width="5" height="13.5"/>
<rect class="rd" x="658" y="553.25" width="31" height="135"/>
<rect class="ye" x="679" y="593.75" width="9" height="13.5"/>
<rect class="bl" x="688" y="593.75" width="1" height="13.5"/>
<rect class="ye" x="678" y="607.25" width="8" height="13.5"/>
<rect class="bl" x="686" y="607.25" width="3" height="13.5"/>
<rect class="ye" x="686" y="661.25" width="2" height="13.5"/>
<rect class="ye" x="667" y="674.75" width="13" height="13.5"/>
<rect class="lb" x="680" y="674.75" width="3" height="13.5"/>
<rect class="gr" x="683" y="674.75" width="4" height="13.5"/>
<rect class="bl" x="687" y="674.75" width="2" height="13.5"/>
<!-- K8 -->
<rect class="bl" x="692" y="13.25" width="31" height="148.5"/>
<rect class="gr" x="692" y="13.25" width="10" height="148.5"/>
<rect class="ye" x="692" y="161.75" width="2" height="27"/>
<rect class="lg" x="694" y="161.75" width="29" height="27"/>
<rect class="gr" x="692" y="188.75" width="31" height="162"/>
<rect class="lb" x="702" y="283.25" width="9" height="13.5"/>
<rect class="ye" x="711" y="283.25" width="5" height="13.5"/>
<rect class="gy" x="720" y="283.25" width="3" height="13.5"/>
<rect class="or" x="692" y="350.75" width="31" height="202.5"/>
<rect class="lb" x="696" y="431.75" width="4" height="13.5"/>
<rect class="ye" x="700" y="431.75" width="11.7" height="13.5"/>
<rect class="gy" x="711.7" y="431.75" width="10.3" height="13.5"/>
<rect class="bl" x="722" y="431.75" width="1" height="13.5"/>
<rect class="rd" x="692" y="553.25" width="31" height="135"/>
<rect class="ye" x="715" y="593.75" width="8" height="13.5"/>
<rect class="ye" x="713" y="607.25" width="10" height="13.5"/>
<rect class="ye" x="718" y="661.25" width="5" height="13.5"/>
<rect class="ye" x="699" y="674.75" width="23" height="13.5"/>
<rect class="gy" x="722" y="674.75" width="1" height="13.5"/>
</g>

<!-- K labels B -->
<text x="466" y="712" font-size="21" class="i">K</text>
<g font-size="21" text-anchor="middle">
<text x="501" y="712">2</text><text x="534" y="712">3</text><text x="571" y="712">4</text><text x="604" y="712">5</text><text x="639" y="712">6</text><text x="672.5" y="712">7</text><text x="706" y="712">8</text>
</g>

<!-- Legend -->
<g>
<rect class="lb" x="488" y="721" width="21" height="21" rx="2"/>
<rect class="bl" x="488" y="748.3" width="21" height="21" rx="2"/>
<rect class="lg" x="488" y="775.6" width="21" height="21" rx="2"/>
<rect class="gr" x="488" y="802.9" width="21" height="21" rx="2"/>
<rect class="ye" x="488" y="830.2" width="21" height="21" rx="2"/>
<rect class="or" x="488" y="857.5" width="21" height="21" rx="2"/>
<rect class="rd" x="488" y="884.8" width="21" height="21" rx="2"/>
<rect x="488" y="912" width="21" height="21" rx="2" fill="#6f6e73"/>
</g>
<g font-size="21.3">
<text x="516" y="741"><tspan class="i">U. cannabina</tspan></text>
<text x="516" y="768.3"><tspan class="i">U. triangularis</tspan> subsp. <tspan class="i">triangularis</tspan></text>
<text x="516" y="795.6"><tspan class="i">U. dioica</tspan> subsp. <tspan class="i">afghanica</tspan></text>
<text x="516" y="822.9"><tspan class="i">U. dioica</tspan> subsp. <tspan class="i">gansuensis</tspan></text>
<text x="516" y="850.2"><tspan class="i">U. dioica</tspan> subsp. <tspan class="i">dioica</tspan></text>
<text x="516" y="877.5"><tspan class="i">U. triangularis</tspan> subsp. <tspan class="i">pinnatifida</tspan></text>
<text x="516" y="904.8"><tspan class="i">U. hyperborea</tspan></text>
<text x="516" y="929">Outgroups</text>
</g>

<!-- Panel D structure -->
<g>
<!-- K2 -->
<rect class="bl" x="1216" y="13.25" width="31" height="405"/>
<rect class="rd" x="1216" y="134.75" width="5.7" height="13.5"/>
<rect class="rd" x="1216" y="269.75" width="12.3" height="13.5"/>
<rect class="rd" x="1216" y="283.25" width="10.7" height="13.5"/>
<rect class="rd" x="1216" y="296.75" width="10.7" height="13.5"/>
<rect class="rd" x="1216" y="310.25" width="9.7" height="13.5"/>
<rect class="rd" x="1216" y="323.75" width="9" height="13.5"/>
<rect class="rd" x="1216" y="337.25" width="11.3" height="13.5"/>
<rect class="rd" x="1216" y="350.75" width="24" height="40.5"/>
<rect class="rd" x="1216" y="391.25" width="12.3" height="13.5"/>
<rect class="rd" x="1216" y="404.75" width="10.7" height="13.5"/>
<rect class="rd" x="1216" y="418.25" width="31" height="270"/>
<rect class="bl" x="1243" y="539.75" width="4" height="13.5"/>
<rect class="bl" x="1236" y="553.25" width="11" height="13.5"/>
<rect class="bl" x="1233.3" y="566.75" width="13.7" height="13.5"/>
<rect class="bl" x="1233.3" y="580.25" width="13.7" height="13.5"/>
<rect class="bl" x="1235" y="593.75" width="12" height="13.5"/>
<rect class="bl" x="1231.7" y="607.25" width="15.3" height="13.5"/>
<rect class="bl" x="1237" y="620.75" width="10" height="13.5"/>
<rect class="bl" x="1236" y="634.25" width="11" height="13.5"/>
<rect class="bl" x="1231.7" y="647.75" width="15.3" height="13.5"/>
<rect class="bl" x="1235" y="661.25" width="12" height="13.5"/>
<rect class="bl" x="1234" y="674.75" width="13" height="13.5"/>
<!-- K3 -->
<rect class="bl" x="1250" y="13.25" width="31" height="405"/>
<rect class="rd" x="1250" y="30" width="1" height="40"/>
<rect class="rd" x="1250" y="134.75" width="2.7" height="13.5"/>
<rect class="gr" x="1252.7" y="134.75" width="4" height="13.5"/>
<rect class="rd" x="1250" y="269.75" width="1" height="67.5"/>
<rect class="gr" x="1251" y="269.75" width="14" height="13.5"/>
<rect class="gr" x="1251" y="283.25" width="12.3" height="40.5"/>
<rect class="gr" x="1251" y="323.75" width="9.7" height="13.5"/>
<rect class="rd" x="1250" y="337.25" width="4" height="13.5"/>
<rect class="gr" x="1254" y="337.25" width="9.3" height="13.5"/>
<rect class="gr" x="1250" y="350.75" width="31" height="40.5"/>
<rect class="gr" x="1250" y="391.25" width="15" height="13.5"/>
<rect class="gr" x="1250" y="404.75" width="12.7" height="13.5"/>
<rect class="rd" x="1250" y="418.25" width="31" height="270"/>
<rect class="bl" x="1276.7" y="539.75" width="4.3" height="13.5"/>
<rect class="bl" x="1270" y="553.25" width="11" height="13.5"/>
<rect class="bl" x="1267.3" y="566.75" width="13.7" height="13.5"/>
<rect class="bl" x="1267.3" y="580.25" width="13.7" height="13.5"/>
<rect class="bl" x="1268.3" y="593.75" width="12.7" height="13.5"/>
<rect class="bl" x="1265" y="607.25" width="16" height="13.5"/>
<rect class="bl" x="1270.7" y="620.75" width="10.3" height="13.5"/>
<rect class="bl" x="1269.3" y="634.25" width="11.7" height="13.5"/>
<rect class="bl" x="1265" y="647.75" width="16" height="13.5"/>
<rect class="bl" x="1267.3" y="661.25" width="13.7" height="13.5"/>
<rect class="bl" x="1267.3" y="674.75" width="13.7" height="13.5"/>
<!-- K4 -->
<rect class="bl" x="1284" y="13.25" width="31" height="405"/>
<rect class="lg" x="1284" y="95" width="1.5" height="40"/>
<rect class="rd" x="1284" y="134.75" width="2" height="13.5"/>
<rect class="lg" x="1286" y="134.75" width="6.7" height="13.5"/>
<rect class="lg" x="1284" y="148.25" width="3" height="121.5"/>
<rect class="gr" x="1284" y="269.75" width="8.7" height="13.5"/>
<rect class="lg" x="1292.7" y="269.75" width="9" height="13.5"/>
<rect class="gr" x="1284" y="283.25" width="6" height="54"/>
<rect class="lg" x="1290" y="283.25" width="10" height="54"/>
<rect class="rd" x="1284" y="337.25" width="1.3" height="13.5"/>
<rect class="gr" x="1285.3" y="337.25" width="4.7" height="13.5"/>
<rect class="lg" x="1290" y="337.25" width="10.7" height="13.5"/>
<rect class="gr" x="1284" y="350.75" width="31" height="40.5"/>
<rect class="gr" x="1284" y="391.25" width="16" height="13.5"/>
<rect class="gr" x="1284" y="404.75" width="8.7" height="13.5"/>
<rect class="lg" x="1292.7" y="404.75" width="6.6" height="13.5"/>
<rect class="rd" x="1284" y="418.25" width="31" height="270"/>
<rect class="lg" x="1298" y="539.75" width="5" height="13.5"/>
<rect class="bl" x="1303" y="539.75" width="12" height="13.5"/>
<rect class="lg" x="1300" y="553.25" width="6.7" height="13.5"/><rect class="bl" x="1306.7" y="553.25" width="8.3" height="13.5"/>
<rect class="lg" x="1297.3" y="566.75" width="8.7" height="13.5"/><rect class="bl" x="1306" y="566.75" width="9" height="13.5"/>
<rect class="lg" x="1295" y="580.25" width="11" height="13.5"/><rect class="bl" x="1306" y="580.25" width="9" height="13.5"/>
<rect class="lg" x="1295" y="593.75" width="11.7" height="13.5"/><rect class="bl" x="1306.7" y="593.75" width="8.3" height="13.5"/>
<rect class="lg" x="1294" y="607.25" width="14.3" height="13.5"/><rect class="bl" x="1308.3" y="607.25" width="6.7" height="13.5"/>
<rect class="lg" x="1297.3" y="620.75" width="10" height="13.5"/><rect class="bl" x="1307.3" y="620.75" width="7.7" height="13.5"/>
<rect class="lg" x="1291.7" y="634.25" width="20" height="13.5"/><rect class="bl" x="1311.7" y="634.25" width="3.3" height="13.5"/>
<rect class="lg" x="1293.3" y="647.75" width="14" height="13.5"/><rect class="bl" x="1307.3" y="647.75" width="7.7" height="13.5"/>
<rect class="lg" x="1295" y="661.25" width="13.3" height="13.5"/><rect class="bl" x="1308.3" y="661.25" width="6.7" height="13.5"/>
<rect class="lg" x="1296.7" y="674.75" width="10" height="13.5"/><rect class="bl" x="1306.7" y="674.75" width="8.3" height="13.5"/>
<!-- K5 -->
<rect class="bl" x="1318" y="13.25" width="30" height="405"/>
<rect class="ye" x="1318" y="40" width="1.2" height="30"/>
<rect class="lg" x="1318" y="134.75" width="11.3" height="13.5"/>
<rect class="ye" x="1329.3" y="134.75" width="1.5" height="13.5"/>
<rect class="ye" x="1318" y="202.25" width="1.5" height="67.5"/>
<rect class="gr" x="1318" y="269.75" width="3" height="40.5"/>
<rect class="lg" x="1321" y="269.75" width="22.3" height="40.5"/>
<rect class="gr" x="1318" y="310.25" width="3" height="13.5"/>
<rect class="lg" x="1321" y="310.25" width="20.7" height="13.5"/>
<rect class="gr" x="1318" y="323.75" width="3" height="13.5"/>
<rect class="lg" x="1321" y="323.75" width="16.3" height="13.5"/>
<rect class="gr" x="1318" y="337.25" width="2" height="13.5"/>
<rect class="lg" x="1320" y="337.25" width="16.7" height="13.5"/>
<rect class="ye" x="1336.7" y="337.25" width="3.3" height="13.5"/>
<rect class="gr" x="1318" y="350.75" width="30" height="40.5"/>
<rect class="gr" x="1318" y="391.25" width="14.7" height="13.5"/>
<rect class="gr" x="1318" y="404.75" width="5.3" height="13.5"/>
<rect class="lg" x="1323.3" y="404.75" width="11.7" height="13.5"/>
<rect class="ye" x="1335" y="404.75" width="2.3" height="13.5"/>
<rect class="rd" x="1318" y="418.25" width="30" height="270"/>
<rect class="ye" x="1343.3" y="539.75" width="1.7" height="13.5"/>
<rect class="bl" x="1345" y="539.75" width="3" height="13.5"/>
<rect class="ye" x="1335" y="553.25" width="3.3" height="13.5"/><rect class="bl" x="1338.3" y="553.25" width="9.7" height="13.5"/>
<rect class="ye" x="1332.7" y="566.75" width="4" height="13.5"/><rect class="bl" x="1336.7" y="566.75" width="11.3" height="13.5"/>
<rect class="ye" x="1332.7" y="580.25" width="4" height="13.5"/><rect class="bl" x="1336.7" y="580.25" width="11.3" height="13.5"/>
<rect class="ye" x="1333.3" y="593.75" width="5" height="13.5"/><rect class="bl" x="1338.3" y="593.75" width="9.7" height="13.5"/>
<rect class="ye" x="1330" y="607.25" width="5" height="13.5"/><rect class="bl" x="1335" y="607.25" width="13" height="13.5"/>
<rect class="ye" x="1335" y="620.75" width="6.7" height="13.5"/><rect class="bl" x="1341.7" y="620.75" width="6.3" height="13.5"/>
<rect class="ye" x="1326.7" y="634.25" width="16.6" height="13.5"/><rect class="bl" x="1343.3" y="634.25" width="4.7" height="13.5"/>
<rect class="ye" x="1329.3" y="647.75" width="7.4" height="13.5"/><rect class="bl" x="1336.7" y="647.75" width="11.3" height="13.5"/>
<rect class="ye" x="1331.7" y="661.25" width="6.6" height="13.5"/><rect class="bl" x="1338.3" y="661.25" width="9.7" height="13.5"/>
<rect class="ye" x="1332.7" y="674.75" width="4.6" height="13.5"/><rect class="bl" x="1337.3" y="674.75" width="10.7" height="13.5"/>
<!-- K6 -->
<rect class="bl" x="1352" y="13.25" width="30" height="405"/>
<rect class="or" x="1352" y="55" width="1.2" height="13"/>
<rect class="lg" x="1352" y="134.75" width="11.3" height="13.5"/>
<rect class="or" x="1363.3" y="134.75" width="1.7" height="13.5"/>
<rect class="or" x="1352" y="202.25" width="2" height="67.5"/>
<rect class="gr" x="1352" y="269.75" width="3" height="54"/>
<rect class="lg" x="1355" y="269.75" width="25" height="54"/>
<rect class="gr" x="1352" y="323.75" width="3" height="13.5"/>
<rect class="lg" x="1355" y="323.75" width="18.3" height="13.5"/>
<rect class="gr" x="1352" y="337.25" width="1" height="13.5"/>
<rect class="lg" x="1353" y="337.25" width="19" height="13.5"/>
<rect class="or" x="1372" y="337.25" width="4" height="13.5"/>
<rect class="gr" x="1352" y="350.75" width="30" height="40.5"/>
<rect class="gr" x="1352" y="391.25" width="14.7" height="13.5"/>
<rect class="gr" x="1352" y="404.75" width="5" height="13.5"/>
<rect class="lg" x="1357" y="404.75" width="13.7" height="13.5"/>
<rect class="or" x="1370.7" y="404.75" width="2.6" height="13.5"/>
<rect class="rd" x="1352" y="418.25" width="30" height="270"/>
<rect class="ye" x="1374.3" y="539.75" width="7.7" height="13.5"/>
<rect class="ye" x="1365" y="553.25" width="11.7" height="13.5"/><rect class="bl" x="1376.7" y="553.25" width="5.3" height="13.5"/>
<rect class="ye" x="1361.7" y="566.75" width="15" height="13.5"/><rect class="bl" x="1376.7" y="566.75" width="5.3" height="13.5"/>
<rect class="ye" x="1360" y="580.25" width="18.3" height="13.5"/><rect class="bl" x="1378.3" y="580.25" width="3.7" height="13.5"/>
<rect class="ye" x="1361.7" y="593.75" width="18.3" height="13.5"/><rect class="bl" x="1380" y="593.75" width="2" height="13.5"/>
<rect class="ye" x="1358.3" y="607.25" width="23.7" height="13.5"/>
<rect class="ye" x="1364.3" y="620.75" width="17.7" height="13.5"/>
<rect class="ye" x="1353.3" y="634.25" width="15.7" height="13.5"/><rect class="or" x="1369" y="634.25" width="12.7" height="13.5"/>
<rect class="ye" x="1358.3" y="647.75" width="21.7" height="13.5"/><rect class="bl" x="1380" y="647.75" width="2" height="13.5"/>
<rect class="ye" x="1360" y="661.25" width="20" height="13.5"/><rect class="bl" x="1380" y="661.25" width="2" height="13.5"/>
<rect class="ye" x="1361.7" y="674.75" width="15.6" height="13.5"/><rect class="bl" x="1377.3" y="674.75" width="4.7" height="13.5"/>
<!-- K7 -->
<rect class="bl" x="1386" y="13.25" width="30" height="405"/>
<rect class="lg" x="1386" y="134.75" width="11.3" height="13.5"/>
<rect class="or" x="1397.3" y="134.75" width="2" height="13.5"/>
<rect class="lb" x="1386" y="148.25" width="5" height="54"/>
<rect class="lb" x="1386" y="202.25" width="6" height="67.5"/>
<rect class="gr" x="1386" y="269.75" width="3" height="54"/>
<rect class="lg" x="1389" y="269.75" width="24.3" height="54"/>
<rect class="gr" x="1386" y="323.75" width="3" height="13.5"/>
<rect class="lg" x="1389" y="323.75" width="19.3" height="13.5"/>
<rect class="gr" x="1386" y="337.25" width="1" height="13.5"/>
<rect class="lg" x="1387" y="337.25" width="18.7" height="13.5"/>
<rect class="or" x="1405.7" y="337.25" width="3.6" height="13.5"/>
<rect class="gr" x="1386" y="350.75" width="30" height="40.5"/>
<rect class="gr" x="1386" y="391.25" width="14" height="13.5"/>
<rect class="lb" x="1400" y="391.25" width="1.7" height="13.5"/>
<rect class="gr" x="1386" y="404.75" width="4" height="13.5"/>
<rect class="lg" x="1390" y="404.75" width="15" height="13.5"/>
<rect class="or" x="1405" y="404.75" width="2.3" height="13.5"/>
<rect class="rd" x="1386" y="418.25" width="30" height="270"/>
<rect class="ye" x="1408.3" y="539.75" width="7.7" height="13.5"/>
<rect class="ye" x="1395" y="553.25" width="16.7" height="13.5"/><rect class="bl" x="1411.7" y="553.25" width="4.3" height="13.5"/>
<rect class="ye" x="1393.3" y="566.75" width="18.4" height="13.5"/><rect class="bl" x="1411.7" y="566.75" width="4.3" height="13.5"/>
<rect class="ye" x="1392.3" y="580.25" width="19.4" height="13.5"/><rect class="bl" x="1411.7" y="580.25" width="4.3" height="13.5"/>
<rect class="ye" x="1393.3" y="593.75" width="20" height="13.5"/><rect class="bl" x="1413.3" y="593.75" width="2.7" height="13.5"/>
<rect class="ye" x="1391.7" y="607.25" width="23.3" height="13.5"/><rect class="bl" x="1415" y="607.25" width="1" height="13.5"/>
<rect class="ye" x="1396.7" y="620.75" width="19.3" height="13.5"/>
<rect class="ye" x="1386.7" y="634.25" width="16" height="13.5"/><rect class="or" x="1402.7" y="634.25" width="10" height="13.5"/><rect class="lb" x="1412.7" y="634.25" width="3.3" height="13.5"/>
<rect class="ye" x="1391.7" y="647.75" width="21.6" height="13.5"/><rect class="bl" x="1413.3" y="647.75" width="2.7" height="13.5"/>
<rect class="ye" x="1393.3" y="661.25" width="20" height="13.5"/><rect class="bl" x="1413.3" y="661.25" width="2.7" height="13.5"/>
<rect class="ye" x="1395" y="674.75" width="16.7" height="13.5"/><rect class="bl" x="1411.7" y="674.75" width="4.3" height="13.5"/>
<!-- K8 -->
<rect class="bl" x="1419" y="13.25" width="31" height="405"/>
<rect class="lb" x="1419" y="40" width="1.5" height="25"/>
<rect class="lg" x="1419" y="134.75" width="12.7" height="13.5"/>
<rect class="lb" x="1431.7" y="134.75" width="1.6" height="13.5"/>
<rect class="or" x="1419" y="148.25" width="7" height="54"/>
<rect class="or" x="1419" y="202.25" width="10" height="67.5"/>
<rect class="gr" x="1419" y="269.75" width="4.3" height="54"/>
<rect class="lg" x="1423.3" y="269.75" width="24" height="54"/>
<rect class="gr" x="1419" y="323.75" width="4.3" height="13.5"/>
<rect class="lg" x="1423.3" y="323.75" width="18.7" height="13.5"/>
<rect class="gr" x="1419" y="337.25" width="1" height="13.5"/>
<rect class="lg" x="1420" y="337.25" width="20" height="13.5"/>
<rect class="or" x="1440" y="337.25" width="1.7" height="13.5"/>
<rect class="lb" x="1441.7" y="337.25" width="2.6" height="13.5"/>
<rect class="gr" x="1419" y="350.75" width="31" height="40.5"/>
<rect class="gr" x="1419" y="391.25" width="14.3" height="13.5"/>
<rect class="or" x="1433.3" y="391.25" width="3.4" height="13.5"/>
<rect class="gr" x="1419" y="404.75" width="5" height="13.5"/>
<rect class="lg" x="1424" y="404.75" width="14.3" height="13.5"/>
<rect class="or" x="1438.3" y="404.75" width="1.7" height="13.5"/>
<rect class="lb" x="1440" y="404.75" width="2.7" height="13.5"/>
<rect class="rd" x="1419" y="418.25" width="31" height="270"/>
<rect class="ye" x="1441.7" y="539.75" width="8.3" height="13.5"/>
<rect class="ye" x="1433.3" y="553.25" width="12.7" height="13.5"/><rect class="bl" x="1446" y="553.25" width="4" height="13.5"/>
<rect class="ye" x="1431.7" y="566.75" width="14.3" height="13.5"/><rect class="bl" x="1446" y="566.75" width="4" height="13.5"/>
<rect class="ye" x="1429.3" y="580.25" width="15.7" height="13.5"/><rect class="bl" x="1445" y="580.25" width="5" height="13.5"/>
<rect class="ye" x="1426.7" y="593.75" width="20" height="13.5"/><rect class="bl" x="1446.7" y="593.75" width="3.3" height="13.5"/>
<rect class="ye" x="1425" y="607.25" width="23.3" height="13.5"/><rect class="bl" x="1448.3" y="607.25" width="1.7" height="13.5"/>
<rect class="ye" x="1431.7" y="620.75" width="17.6" height="13.5"/><rect class="bl" x="1449.3" y="620.75" width="0.7" height="13.5"/>
<rect class="ye" x="1420.7" y="634.25" width="16" height="13.5"/><rect class="lb" x="1436.7" y="634.25" width="8.3" height="13.5"/><rect class="gy" x="1445" y="634.25" width="5" height="13.5"/>
<rect class="ye" x="1423.3" y="647.75" width="23.4" height="13.5"/><rect class="bl" x="1446.7" y="647.75" width="3.3" height="13.5"/>
<rect class="ye" x="1426" y="661.25" width="21.7" height="13.5"/><rect class="bl" x="1447.7" y="661.25" width="2.3" height="13.5"/>
<rect class="ye" x="1428.3" y="674.75" width="18.4" height="13.5"/><rect class="bl" x="1446.7" y="674.75" width="3.3" height="13.5"/>
</g>

<!-- K labels D -->
<text x="1193" y="712" font-size="21" class="i">K</text>
<g font-size="21" text-anchor="middle">
<text x="1228" y="712">2</text><text x="1260" y="712">3</text><text x="1294" y="712">4</text><text x="1329" y="712">5</text><text x="1363" y="712">6</text><text x="1398" y="712">7</text><text x="1432" y="712">8</text>
</g>
</svg>
</body></html>
